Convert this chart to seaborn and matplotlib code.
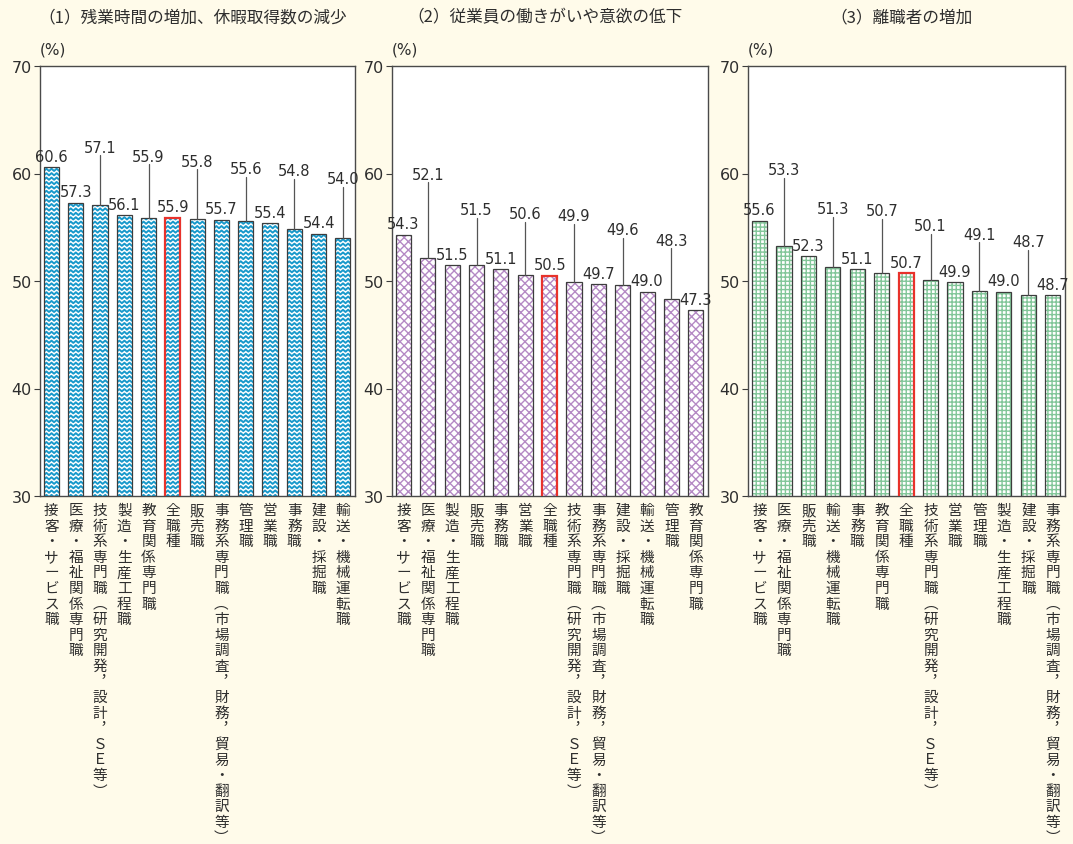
import numpy as np
import pandas as pd
import matplotlib
matplotlib.use("Agg")
import matplotlib.pyplot as plt
import seaborn as sns
from matplotlib.patches import Rectangle
from matplotlib.collections import LineCollection

sns.set_theme(style="white")
plt.rcParams['font.family'] = ['Noto Sans CJK JP', 'DejaVu Sans']
plt.rcParams['hatch.linewidth'] = 1.0

TECH = "技術系専門職（研究開発，設計，ＳＥ等）"
OFFICE = "事務系専門職（市場調査，財務，貿易・翻訳等）"
ALL = "全職種"

# (1) overtime / fewer days of leave
title1 = "（1）残業時間の増加、休暇取得数の減少"
cats1 = ["接客・サービス職", "医療・福祉関係専門職", TECH, "製造・生産工程職",
         "教育関係専門職", ALL, "販売職", OFFICE, "管理職", "営業職",
         "事務職", "建設・採掘職", "輸送・機械運転職"]
vals1 = [60.6, 57.3, 57.1, 56.1, 55.9, 55.9, 55.8, 55.7, 55.6, 55.4, 54.8, 54.4, 54.0]

# (2) lower motivation of employees
title2 = "（2）従業員の働きがいや意欲の低下"
cats2 = ["接客・サービス職", "医療・福祉関係専門職", "製造・生産工程職", "販売職",
         "事務職", "営業職", ALL, TECH, OFFICE, "建設・採掘職",
         "輸送・機械運転職", "管理職", "教育関係専門職"]
vals2 = [54.3, 52.1, 51.5, 51.5, 51.1, 50.6, 50.5, 49.9, 49.7, 49.6, 49.0, 48.3, 47.3]

# (3) more people leaving
title3 = "（3）離職者の増加"
cats3 = ["接客・サービス職", "医療・福祉関係専門職", "販売職", "輸送・機械運転職",
         "事務職", "教育関係専門職", ALL, TECH, "営業職", "管理職",
         "製造・生産工程職", "建設・採掘職", OFFICE]
vals3 = [55.6, 53.3, 52.3, 51.3, 51.1, 50.7, 50.7, 50.1, 49.9, 49.1, 49.0, 48.7, 48.7]

# label placement: 0 = just above the bar, otherwise height (in %) above the bar
lift1 = [0, 0, 5.35, 0, 5.7, 0, 5.35, 0, 4.85, 0, 5.45, 0, 5.5]
lift2 = [0, 7.85, 0, 5.15, 0, 5.65, 0, 6.15, 0, 5.15, 0, 5.5, 0]
lift3 = [0, 7.05, 0, 5.4, 0, 5.85, 0, 5.05, 0, 5.25, 0, 4.95, 0]

BG = "#fffbea"
EDGE = "#3d3d3d"
RED = "#e8322b"
TXT = "#2e2e2e"
BLUE = "#1899cb"
PURPLE = "#b489c4"
GREEN = "#82c699"
NUMFONT = ["DejaVu Sans"]

VERT = {"（": "︵", "）": "︶", "，": "︐"}

panels = [
    (title1, cats1, vals1, lift1, "zigzag", BLUE),
    (title2, cats2, vals2, lift2, "xxxx", PURPLE),
    (title3, cats3, vals3, lift3, "++++", GREEN),
]

fig = plt.figure(figsize=(10.73, 8.45), dpi=100, facecolor=BG)
W, H = 1073, 845
lefts = [40, 392, 748]
widths = [315, 316, 317]
top_px, bot_px = 67, 497


def zigzag_fill(ax, patch, color):
    x0 = patch.get_x()
    w = patch.get_width()
    top = patch.get_y() + patch.get_height()
    period, amp, gap = 0.21, 0.105, 0.41
    xs = np.arange(x0 - period, x0 + w + period, period / 2)
    sign = np.where(np.arange(len(xs)) % 2 == 0, -amp, amp)
    segs = [np.column_stack([xs, yy + sign]) for yy in np.arange(30.0, top + gap, gap)]
    lc = LineCollection(segs, colors=color, linewidths=1.4, zorder=2.2)
    ax.add_collection(lc)
    lc.set_clip_path(patch.get_path(), patch.get_transform())


for (title, cats, vals, lift, pattern, color), lp, wp in zip(panels, lefts, widths):
    ax = fig.add_axes([lp / W, 1 - bot_px / H, wp / W, (bot_px - top_px) / H])
    ax.set_facecolor("white")
    df = pd.DataFrame({"job": cats, "pct": vals})
    sns.barplot(data=df, x="job", y="pct", ax=ax, order=cats, width=0.62,
                color="white", saturation=1, errorbar=None)

    for i, p in enumerate(list(ax.patches)):
        p.set_facecolor("white")
        p.set_zorder(2)
        if pattern == "zigzag":
            p.set_linewidth(0)
            p.set_edgecolor("white")
            zigzag_fill(ax, p, color)
        else:
            p.set_hatch(pattern)
            p.set_edgecolor(color)
            p.set_linewidth(0)
        is_all = cats[i] == ALL
        ax.add_patch(Rectangle((p.get_x(), p.get_y()), p.get_width(), p.get_height(),
                               fill=False, ec=RED if is_all else EDGE,
                               lw=1.6 if is_all else 0.9, zorder=3))

    # value labels
    for i, v in enumerate(vals):
        if lift[i] == 0:
            ax.annotate(f"{v:.1f}", xy=(i, v), xytext=(0, 7.8), textcoords="offset points",
                        ha="center", va="center", fontsize=10.5, color=TXT, zorder=5,
                        family=NUMFONT)
        else:
            ly = v + lift[i]
            ax.plot([i, i], [v, ly - 0.75], color="#555555", lw=0.9, zorder=4)
            ax.text(i, ly, f"{v:.1f}", ha="center", va="center", fontsize=10.5,
                    color=TXT, zorder=5, family=NUMFONT)

    # vertical category labels
    pitch = 11.23
    for i, c in enumerate(cats):
        for k, ch in enumerate(c):
            ax.annotate(VERT.get(ch, ch), xy=(i, 30), xycoords="data",
                        xytext=(0, -5.0 - k * pitch), textcoords="offset points",
                        ha="center", va="top", fontsize=10.5, color=TXT,
                        annotation_clip=False)

    ax.set_xlim(-0.47, 12.5)
    ax.set_ylim(30, 70)
    ax.set_yticks([30, 40, 50, 60, 70])
    ax.set_yticklabels(["30", "40", "50", "60", "70"], family=NUMFONT)
    ax.set_xticks([])
    ax.set_xlabel("")
    ax.set_ylabel("")
    ax.tick_params(axis="y", direction="out", length=4, width=0.8, colors=EDGE,
                   labelcolor=TXT, labelsize=11.5, pad=2, left=True)
    for s in ax.spines.values():
        s.set_visible(True)
        s.set_color("#4a4a4a")
        s.set_linewidth(1.0)

    ax.annotate("(%)", xy=(0, 1), xycoords="axes fraction", xytext=(0, 12),
                textcoords="offset points", ha="left", va="center",
                fontsize=11, color=TXT, family=NUMFONT)
    fig.text((lp + wp / 2 - 5) / W, 1 - 18 / H, title, ha="center", va="center",
             fontsize=12, color=TXT)

fig.savefig("out.png", dpi=100, facecolor=BG)
